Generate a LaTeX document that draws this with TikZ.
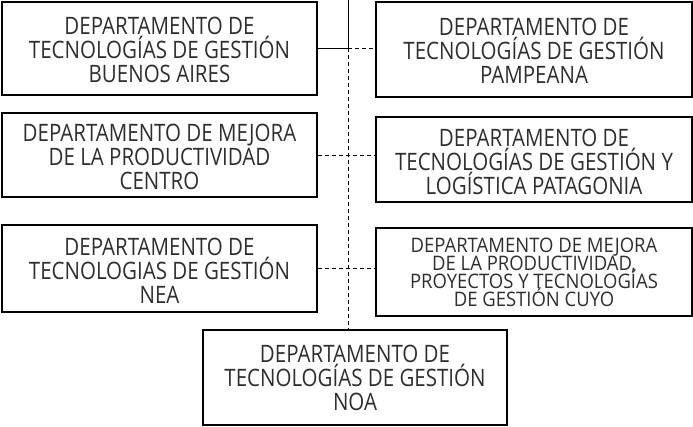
\documentclass[tikz,border=0pt]{standalone}
\usepackage{fontspec}
\setmainfont{Open Sans}[FakeStretch=0.854]
\newfontfamily\cuyofont{Open Sans}[FakeStretch=0.924]
\definecolor{txt}{HTML}{2E2E2E}
\newcommand\mytightlines{\lineskiplimit-100pt\relax}
\begin{document}
\begin{tikzpicture}[x=1pt,y=1pt,
  dept/.style={draw=black, line width=1.5pt, inner sep=0pt},
  dtext/.style={inner sep=0pt, align=center, text=txt,
    font=\fontsize{24}{24}\selectfont\mytightlines},
  ctext/.style={dtext, font=\cuyofont\fontsize{20}{18}\selectfont\mytightlines},
  link/.style={line width=0.9pt},
  dlink/.style={line width=0.9pt, dash pattern=on 4pt off 3pt}]
\useasboundingbox (0,0) rectangle (693,427);
\node[dept, minimum width=315pt, minimum height=93pt] (ba) at (159.5,378.5) {};
\node[dtext] (bat) at ([yshift=-1.5pt]ba.center)
  {DEPARTAMENTO DE\\TECNOLOGÍAS DE GESTIÓN\\BUENOS AIRES};
\node[dept, minimum width=316pt, minimum height=95pt] (pam) at (534,377.5) {};
\node[dtext] (pamt) at ([yshift=-1pt]pam.center)
  {DEPARTAMENTO DE\\TECNOLOGÍAS DE GESTIÓN\\PAMPEANA};
\node[dept, minimum width=315pt, minimum height=84pt] (cen) at (159.5,272) {};
\node[dtext] (cent) at ([yshift=-2pt]cen.center)
  {DEPARTAMENTO DE MEJORA\\DE LA PRODUCTIVIDAD\\CENTRO};
\node[dept, minimum width=316pt, minimum height=85pt] (pat) at (534,267.5) {};
\node[dtext] (patt) at ([yshift=-2.5pt]pat.center)
  {DEPARTAMENTO DE\\TECNOLOGÍAS DE GESTIÓN Y\\LOGÍSTICA PATAGONIA};
\node[dept, minimum width=315pt, minimum height=87pt] (nea) at (159.5,158.5) {};
\node[dtext] (neat) at ([yshift=-2pt]nea.center)
  {DEPARTAMENTO DE\\TECNOLOGIAS DE GESTIÓN\\NEA};
\node[dept, minimum width=316pt, minimum height=88pt] (cuy) at (534,155) {};
\node[ctext] (cuyt) at (cuy.center)
  {DEPARTAMENTO DE MEJORA\\DE LA PRODUCTIVIDAD,\\PROYECTOS Y TECNOLOGÍAS\\DE GESTIÓN CUYO};
\node[dept, minimum width=304pt, minimum height=95pt] (noa) at (355,49.5) {};
\node[dtext] (noat) at (noa.center)
  {DEPARTAMENTO DE\\TECNOLOGÍAS DE GESTIÓN\\NOA};
\coordinate (top) at (348,427);
\coordinate (j1) at (348,378.5);
\coordinate (bot) at (noa.north -| top);
\draw[link] (top) -- (j1);
\draw[link] (ba.east) -- (j1);
\draw[dlink] (j1) -- (pam.west |- j1);
\draw[dlink] (j1) -- (bot);
\draw[dlink] (cen.east) -- (pat.west |- cen.east);
\draw[dlink] (nea.east) -- (cuy.west |- nea.east);
\end{tikzpicture}
\end{document}
